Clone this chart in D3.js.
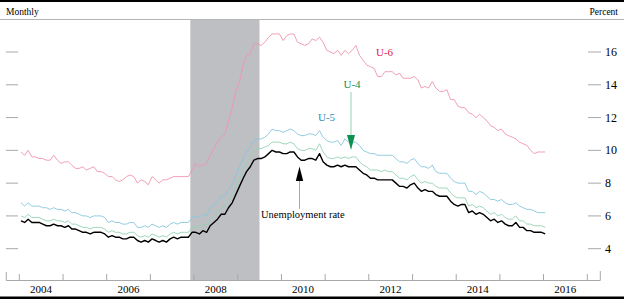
<!DOCTYPE html>
<html>
<head>
<meta charset="utf-8">
<script src="https://cdn.jsdelivr.net/npm/d3@7"></script>
<style>
  body { margin: 0; background: white; }
</style>
</head>
<body>
<script>
const width = 624;
const height = 299;

// monthly, Jan 2004 .. Jan 2016
const startYear = 2004;
const unemp = [
  5.7,5.6,5.8,5.6,5.6,5.6,5.5,5.4,5.4,5.5,5.4,5.4,
  5.3,5.4,5.2,5.2,5.1,5.0,5.0,4.9,5.0,5.0,5.0,4.9,
  4.7,4.8,4.7,4.7,4.6,4.6,4.7,4.7,4.5,4.4,4.5,4.4,
  4.6,4.5,4.4,4.5,4.4,4.6,4.7,4.6,4.7,4.7,4.7,5.0,
  5.0,4.9,5.1,5.0,5.4,5.6,5.8,6.1,6.1,6.5,6.8,7.3,
  7.8,8.3,8.7,9.0,9.4,9.5,9.5,9.6,9.8,10.0,9.9,9.9,
  9.8,9.8,9.9,9.9,9.6,9.4,9.4,9.5,9.5,9.4,9.8,9.3,
  9.1,9.0,9.0,9.1,9.0,9.1,9.0,9.0,9.0,8.8,8.6,8.5,
  8.3,8.3,8.2,8.2,8.2,8.2,8.2,8.0,7.8,7.8,7.7,7.9,
  8.0,7.7,7.5,7.6,7.5,7.5,7.3,7.2,7.2,7.2,6.9,6.7,
  6.6,6.7,6.7,6.2,6.3,6.1,6.2,6.1,5.9,5.7,5.8,5.6,
  5.7,5.5,5.4,5.4,5.6,5.3,5.3,5.1,5.1,5.0,5.0,5.0,
  4.9
];
const u4 = [
  6.0,5.9,6.1,5.9,5.9,5.9,5.8,5.7,5.7,5.8,5.7,5.7,
  5.6,5.7,5.5,5.5,5.4,5.3,5.3,5.2,5.3,5.3,5.3,5.2,
  5.0,5.1,5.0,5.0,4.9,4.9,5.0,5.0,4.8,4.7,4.8,4.7,
  4.9,4.8,4.7,4.8,4.7,4.9,5.0,4.9,5.0,5.0,5.0,5.3,
  5.3,5.3,5.5,5.4,5.8,6.0,6.2,6.5,6.6,7.0,7.3,7.8,
  8.3,8.8,9.2,9.5,9.9,10.1,10.1,10.2,10.3,10.5,10.5,10.5,
  10.4,10.4,10.5,10.4,10.1,10.0,10.0,10.1,10.1,10.0,10.4,9.9,
  9.6,9.5,9.5,9.6,9.5,9.6,9.5,9.6,9.6,9.3,9.1,9.0,
  8.8,8.8,8.8,8.7,8.8,8.7,8.7,8.5,8.3,8.3,8.2,8.4,
  8.5,8.2,8.0,8.1,8.0,8.0,7.8,7.7,7.7,7.7,7.4,7.2,
  7.1,7.1,7.1,6.6,6.7,6.5,6.6,6.5,6.3,6.1,6.2,6.0,
  6.1,5.9,5.8,5.8,6.0,5.7,5.7,5.5,5.5,5.4,5.4,5.4,
  5.3
];
const u5 = [
  6.8,6.6,6.8,6.6,6.6,6.6,6.5,6.5,6.4,6.5,6.4,6.4,
  6.3,6.4,6.2,6.2,6.1,6.0,6.0,5.9,6.0,6.0,6.0,5.9,
  5.6,5.7,5.6,5.6,5.5,5.5,5.6,5.6,5.3,5.3,5.4,5.3,
  5.5,5.4,5.3,5.4,5.3,5.5,5.6,5.5,5.6,5.6,5.6,5.9,
  6.0,5.9,6.1,6.0,6.5,6.7,6.9,7.2,7.2,7.6,7.9,8.4,
  9.0,9.5,9.9,10.2,10.6,10.7,10.7,10.8,11.0,11.3,11.2,11.2,
  11.1,11.2,11.3,11.2,11.0,10.9,10.9,11.0,11.0,10.9,11.2,10.8,
  10.6,10.5,10.5,10.6,10.3,10.7,10.5,10.5,10.5,10.3,10.0,9.9,
  9.8,9.8,9.7,9.7,9.7,9.7,9.7,9.5,9.3,9.3,9.2,9.4,
  9.5,9.2,9.0,9.0,8.9,9.1,8.7,8.6,8.6,8.6,8.3,8.1,
  8.0,8.0,8.0,7.5,7.5,7.3,7.5,7.4,7.2,7.0,7.0,6.9,
  7.0,6.8,6.7,6.7,6.8,6.6,6.5,6.4,6.4,6.3,6.2,6.2,
  6.2
];
const u6 = [
  9.9,9.7,10.0,9.6,9.6,9.5,9.5,9.4,9.4,9.7,9.4,9.2,
  9.3,9.3,9.1,8.9,8.9,9.0,8.8,8.9,9.0,8.7,8.7,8.6,
  8.4,8.4,8.2,8.1,8.2,8.4,8.5,8.4,8.0,8.2,8.1,7.9,
  8.4,8.2,8.0,8.2,8.2,8.3,8.4,8.4,8.4,8.4,8.4,8.8,
  9.2,9.0,9.1,9.2,9.7,10.1,10.5,10.8,11.0,11.8,12.6,13.6,
  14.2,15.2,15.8,15.9,16.5,16.5,16.4,16.6,16.9,17.1,17.1,17.1,
  16.7,17.0,17.1,17.1,16.6,16.5,16.4,16.5,16.8,16.7,16.9,16.6,
  16.1,16.0,15.9,16.1,15.8,16.1,15.9,16.1,16.4,15.8,15.5,15.2,
  15.1,15.0,14.5,14.5,14.8,14.8,14.8,14.6,14.7,14.4,14.4,14.4,
  14.5,14.3,13.8,13.9,13.8,14.2,13.8,13.6,13.6,13.7,13.1,13.1,
  12.7,12.6,12.6,12.3,12.2,12.0,12.2,12.0,11.8,11.5,11.4,11.2,
  11.3,11.0,10.9,10.8,10.7,10.5,10.4,10.3,10.0,9.8,9.9,9.9,
  9.9
];
const recession = [new Date(2007, 11, 1), new Date(2009, 6, 1)];
const yTicks = [4, 6, 8, 10, 12, 14, 16];
const yearTicks = d3.range(2004, 2018);
const yearLabels = [2004, 2006, 2008, 2010, 2012, 2014, 2016];

const serif = "'Liberation Serif', 'Times New Roman', Times, serif";

const svg = d3.select("body").append("svg")
  .attr("width", width).attr("height", height)
  .attr("font-family", serif);

const x = d3.scaleTime()
  .domain([new Date(2004, 0, 1), new Date(2017, 0, 1)])
  .range([19.3, 587.3]);
const y = d3.scaleLinear().domain([4, 16]).range([248.7, 52]);

const axisLeft = 6.3, axisRight = 600.3, axisY = 280.5, plotTop = 20;

// frame
svg.append("rect").attr("x", 0).attr("y", 0).attr("width", width).attr("height", 2).attr("fill", "#000");
svg.append("rect").attr("x", 0).attr("y", 296.5).attr("width", width).attr("height", 2.5).attr("fill", "#000");
svg.append("line").attr("x1", 0).attr("x2", width).attr("y1", 19.5).attr("y2", 19.5)
  .attr("stroke", "#b4b4b4").attr("stroke-width", 1);

svg.append("text").attr("x", 6).attr("y", 14.5).attr("font-size", 9.5).text("Monthly");
svg.append("text").attr("x", 618).attr("y", 14.5).attr("font-size", 9.5)
  .attr("text-anchor", "end").text("Percent");

// recession
svg.append("rect")
  .attr("x", x(recession[0])).attr("y", plotTop)
  .attr("width", x(recession[1]) - x(recession[0]))
  .attr("height", axisY - plotTop)
  .attr("fill", "#bebfc3");

// y ticks both sides
const yg = svg.append("g");
yTicks.forEach(v => {
  yg.append("line").attr("x1", 6).attr("x2", 18).attr("y1", y(v)).attr("y2", y(v))
    .attr("stroke", "#a8a8a8");
  yg.append("line").attr("x1", 588).attr("x2", 601).attr("y1", y(v)).attr("y2", y(v))
    .attr("stroke", "#a8a8a8");
  yg.append("text").attr("x", 605).attr("y", y(v) + 4).attr("font-size", 12).text(v);
});

// x axis
const xg = svg.append("g").attr("stroke", "#a8a8a8");
xg.append("line").attr("x1", axisLeft).attr("x2", axisRight).attr("y1", axisY).attr("y2", axisY);
xg.append("line").attr("x1", axisLeft).attr("x2", axisLeft).attr("y1", axisY).attr("y2", axisY - 8.5);
xg.append("line").attr("x1", axisRight).attr("x2", axisRight).attr("y1", axisY).attr("y2", axisY - 9.5);
yearTicks.forEach(yr => {
  const px = x(new Date(yr, 0, 1));
  xg.append("line").attr("x1", px).attr("x2", px).attr("y1", axisY).attr("y2", axisY - 6.5);
});
yearLabels.forEach(yr => {
  svg.append("text").attr("x", x(new Date(yr, 6, 1))).attr("y", 292.5)
    .attr("font-size", 11).attr("text-anchor", "middle").text(yr);
});

// lines
const dateOf = i => new Date(startYear, i, 15);
const line = d3.line().x((d, i) => x(dateOf(i))).y(d => y(d));

const series = [
  { values: u6, color: "#f094ab", w: 0.9 },
  { values: u5, color: "#86c6de", w: 0.9 },
  { values: u4, color: "#93d3b3", w: 0.9 },
  { values: unemp, color: "#000", w: 1.4 }
];
series.forEach(s => {
  svg.append("path").datum(s.values)
    .attr("d", line)
    .attr("fill", "none")
    .attr("stroke", s.color)
    .attr("stroke-width", s.w)
    .attr("stroke-linejoin", "round");
});

// labels
const lbl = (tx, ty, t, c, fs) => svg.append("text").attr("x", tx).attr("y", ty)
  .attr("font-size", fs).attr("fill", c).text(t);
lbl(376, 55.5, "U-6", "#d81e50", 11);
lbl(343.5, 88, "U-4", "#0f9050", 11);
lbl(318, 121, "U-5", "#2b8bb8", 11);
lbl(261, 218, "Unemployment rate", "#000", 10.5);

// arrows
svg.append("line").attr("x1", 351).attr("x2", 351).attr("y1", 92).attr("y2", 136)
  .attr("stroke", "#93d3b3").attr("stroke-width", 1);
svg.append("path").attr("d", "M347,135 L355,135 L351,150 Z").attr("fill", "#0f9050");

svg.append("line").attr("x1", 299.5).attr("x2", 299.5).attr("y1", 181).attr("y2", 209)
  .attr("stroke", "#a8a8a8").attr("stroke-width", 1);
svg.append("path").attr("d", "M295.8,181 L303.2,181 L299.5,166.5 Z").attr("fill", "#000");
</script>
</body>
</html>
